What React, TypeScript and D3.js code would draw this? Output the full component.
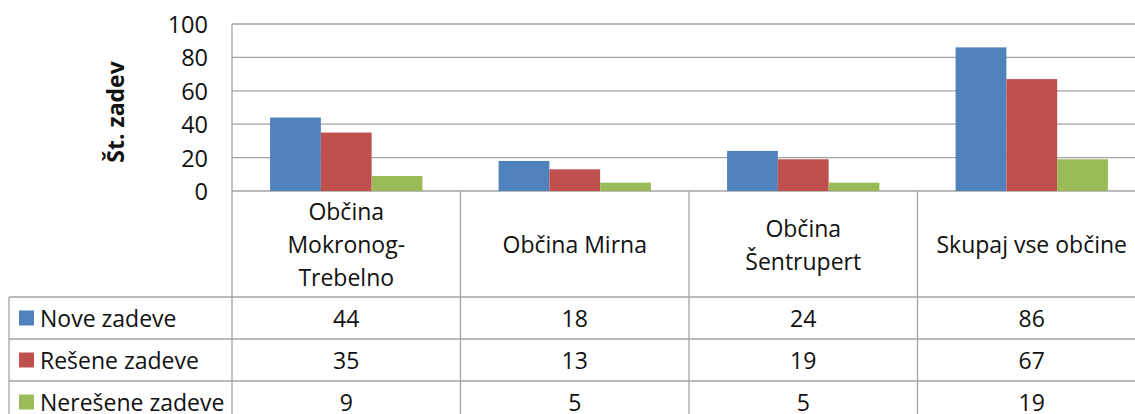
import React from "react";
import * as d3 from "d3";

const categories = ["Občina Mokronog-Trebelno", "Občina Mirna", "Občina Šentrupert", "Skupaj vse občine"];
const categoryLines = [["Občina", "Mokronog-", "Trebelno"], ["Občina Mirna"], ["Občina", "Šentrupert"], ["Skupaj vse občine"]];
const seriesNames = ["Nove zadeve", "Rešene zadeve", "Nerešene zadeve"];
const seriesColors = ["#4F81BD", "#C0504D", "#9BBB59"];
const noveZadeve = [44, 18, 24, 86];
const reseneZadeve = [35, 13, 19, 67];
const neresZadeve = [9, 5, 5, 19];
const seriesValues = [noveZadeve, reseneZadeve, neresZadeve];
const yTicks = [0, 20, 40, 60, 80, 100];
const yTitle = "Št. zadev";

const W = 1135;
const H = 414;
const plotLeft = 232;
const plotRight = 1146;
const plotTop = 24;
const plotBottom = 191;
const headerBottom = 297;
const rowH = 42;
const tableLeft = 9;
const FONT = "'Open Sans', 'Noto Sans', sans-serif";
const GRID = "#a3a3a3";
const TEXT = "#111";

export default function App() {
  const y = d3.scaleLinear().domain([0, 100]).range([plotBottom, plotTop]);
  const x = d3.scaleBand<string>().domain(categories).range([plotLeft, plotRight]).paddingInner(0).paddingOuter(0);
  const xs = d3.scaleBand<string>().domain(seriesNames).range([0, x.bandwidth()]).paddingInner(0).paddingOuter(0.75);
  const rowCenters = seriesNames.map((_, i) => headerBottom + rowH * i + rowH / 2);
  const headerCenter = (plotBottom + headerBottom) / 2;
  const lineH = 33;

  return (
    <svg width={W} height={H} style={{ position: "absolute", left: 0, top: 0, background: "#fff" }} fontFamily={FONT}>
      {yTicks.map((t) => (
        <line key={"g" + t} x1={plotLeft} x2={plotRight} y1={y(t)} y2={y(t)} stroke={GRID} strokeWidth={1.3} />
      ))}
      <line x1={plotLeft} x2={plotLeft} y1={plotTop} y2={H + 20} stroke={GRID} strokeWidth={1.3} />
      {yTicks.map((t) => (
        <text key={"t" + t} x={208} y={y(t)} textAnchor="end" dominantBaseline="central" fontSize={23.5} fill={TEXT}>
          {t}
        </text>
      ))}
      <text
        transform={`translate(115,112) rotate(-90)`}
        textAnchor="middle"
        dominantBaseline="central"
        fontSize={23}
        fontWeight="bold"
        fill={TEXT}
      >
        {yTitle}
      </text>
      {categories.map((c, ci) => (
        <g key={c} transform={`translate(${x(c)},0)`}>
          {seriesNames.map((s, si) => (
            <rect
              key={s}
              x={xs(s)}
              y={y(seriesValues[si][ci])}
              width={xs.bandwidth()}
              height={y(0) - y(seriesValues[si][ci])}
              fill={seriesColors[si]}
            />
          ))}
        </g>
      ))}
      {categories.map((c) => (
        <line key={"v" + c} x1={(x(c) as number) + x.bandwidth()} x2={(x(c) as number) + x.bandwidth()} y1={plotBottom} y2={H + 20} stroke={GRID} strokeWidth={1.3} />
      ))}
      <line x1={tableLeft} x2={tableLeft} y1={headerBottom} y2={H + 20} stroke={GRID} strokeWidth={1.3} />
      {[0, 1, 2, 3].map((i) => (
        <line key={"h" + i} x1={tableLeft} x2={plotRight} y1={headerBottom + rowH * i} y2={headerBottom + rowH * i} stroke={GRID} strokeWidth={1.3} />
      ))}
      {categories.map((c, ci) => {
        const lines = categoryLines[ci];
        const cx = (x(c) as number) + x.bandwidth() / 2;
        return (
          <text key={"c" + c} textAnchor="middle" fontSize={23} fill={TEXT}>
            {lines.map((l, li) => (
              <tspan key={li} x={cx} y={headerCenter + (li - (lines.length - 1) / 2) * lineH} dominantBaseline="central">
                {l}
              </tspan>
            ))}
          </text>
        );
      })}
      {seriesNames.map((s, si) => (
        <g key={"l" + s}>
          <rect x={19} y={rowCenters[si] - 7.5} width={15} height={15} fill={seriesColors[si]} />
          <text x={40} y={rowCenters[si]} dominantBaseline="central" fontSize={23} fill={TEXT}>
            {s}
          </text>
          {categories.map((c, ci) => (
            <text
              key={c}
              x={(x(c) as number) + x.bandwidth() / 2}
              y={rowCenters[si]}
              textAnchor="middle"
              dominantBaseline="central"
              fontSize={23}
              fill={TEXT}
            >
              {seriesValues[si][ci]}
            </text>
          ))}
        </g>
      ))}
    </svg>
  );
}
